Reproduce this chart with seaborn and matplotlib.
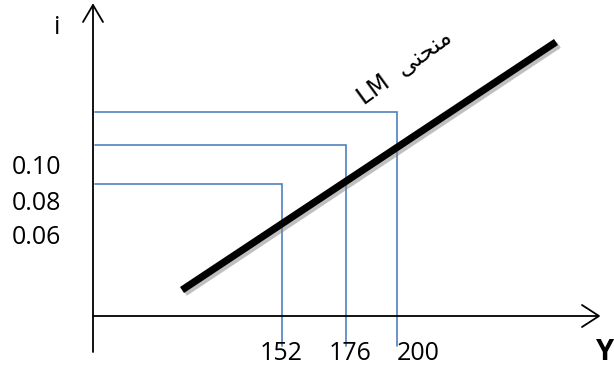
import matplotlib
matplotlib.use("Agg")
import matplotlib.pyplot as plt
import matplotlib.patheffects as pe
import pandas as pd
import seaborn as sns

# ---- chart content (schematic LM diagram) ----
income_labels = ["152", "176", "200"]
rate_labels = ["0.10", "0.08", "0.06"]
x_label = "Y"
y_label = "i"
# Arabic-script label, pre-shaped into presentation forms in visual order ("منحنی")
curve_word = "\uFEF0\uFEE8\uFEA4\uFEE8\uFEE3"
curve_label = "LM  " + curve_word

# diagram coordinates (pixel-like schematic units, y grows downward)
guide_x = [282, 346, 397]
guide_y = [184, 145, 112]
lm_x = [182, 556]
lm_y = [290, 42]

sns.set_theme(style="white")
plt.rcParams["font.family"] = ["Open Sans", "DejaVu Sans"]
plt.rcParams["text.color"] = "black"

fig = plt.figure(figsize=(6.14, 3.87), dpi=100)
ax = fig.add_axes([0, 0, 1, 1])
ax.set_xlim(0, 614)
ax.set_ylim(387, 0)
ax.axis("off")

origin_x, origin_y = 93, 316
blue = "#4F81BD"

# guide lines
for gx, gy in zip(guide_x, guide_y):
    ax.plot([95, gx, gx], [gy, gy, 346], color=blue, lw=1.2, solid_joinstyle="miter")

# LM curve
lm = pd.DataFrame({"Y": lm_x, "i": lm_y})
sns.lineplot(data=lm, x="Y", y="i", ax=ax, color="black", lw=5.2,
             solid_capstyle="butt",
             path_effects=[pe.SimpleLineShadow(offset=(2, -2), shadow_color="gray", alpha=0.5),
                           pe.Normal()])

# axes with open arrowheads
ax.plot([origin_x, origin_x], [352, 5], color="black", lw=1.3)
ax.plot([83, origin_x, 103], [22, 5, 22], color="black", lw=1.3)
ax.plot([origin_x, 598], [origin_y, origin_y], color="black", lw=1.3)
ax.plot([582, 599, 582], [305, origin_y, 327], color="black", lw=1.3)

# tick labels
for lab, gx, ha in zip(income_labels, [281, 350, 397], ["center", "center", "left"]):
    ax.text(gx, 353, lab, fontsize=18, ha=ha, va="center", color="black")
for lab, yy in zip(rate_labels, [167, 203, 238]):
    ax.text(61, yy, lab, fontsize=18, ha="right", va="center", color="black")

ax.text(57, 28, y_label, fontsize=18, ha="center", va="center", color="black")
ax.text(595, 353, x_label, fontsize=21, fontweight="bold", ha="left", va="center",
        color="black")

ax.text(405, 67, curve_label, fontsize=17, rotation=36, rotation_mode="anchor",
        ha="center", va="center", family=["DejaVu Sans"], color="black")

fig.savefig("out.png", dpi=100)
